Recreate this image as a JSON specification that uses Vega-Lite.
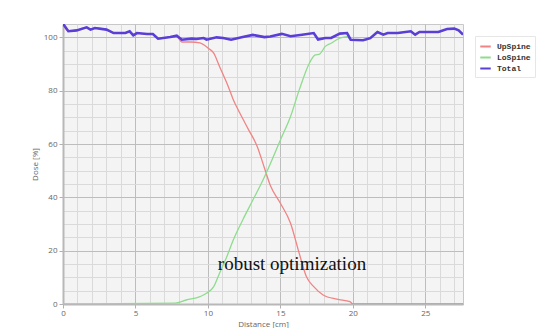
{
  "$schema": "https://vega.github.io/schema/vega-lite/v6.json",
  "width": 400,
  "height": 280,
  "autosize": "none",
  "padding": {"left": 63, "top": 24, "right": 76, "bottom": 24},
  "background": "white",
  "config": {"view": {"fill": "#f4f4f4", "stroke": "#c8c8c8", "strokeWidth": 1}},
  "datasets": {
    "spines": [
      {"d": 0, "v": 105.1, "s": "UpSpine"}, {"d": 0.37, "v": 102.3, "s": "UpSpine"}, {"d": 0.94, "v": 102.6, "s": "UpSpine"}, {"d": 1.63, "v": 103.75, "s": "UpSpine"}, {"d": 1.9, "v": 102.9, "s": "UpSpine"}, {"d": 2.2, "v": 103.5, "s": "UpSpine"}, {"d": 3.0, "v": 102.9, "s": "UpSpine"}, {"d": 3.5, "v": 101.6, "s": "UpSpine"}, {"d": 4.3, "v": 101.6, "s": "UpSpine"}, {"d": 4.6, "v": 102.25, "s": "UpSpine"}, {"d": 4.85, "v": 100.75, "s": "UpSpine"}, {"d": 5.1, "v": 101.6, "s": "UpSpine"}, {"d": 5.8, "v": 101.25, "s": "UpSpine"}, {"d": 6.2, "v": 101.25, "s": "UpSpine"}, {"d": 6.56, "v": 99.5, "s": "UpSpine"}, {"d": 7.4, "v": 100.1, "s": "UpSpine"}, {"d": 7.85, "v": 100.2, "s": "UpSpine"},
      {"d": 8.2, "v": 98.25, "s": "UpSpine"}, {"d": 8.8, "v": 98.25, "s": "UpSpine"}, {"d": 9.45, "v": 97.9, "s": "UpSpine"}, {"d": 10.0, "v": 96, "s": "UpSpine"}, {"d": 10.4, "v": 94.1, "s": "UpSpine"}, {"d": 10.8, "v": 89.1, "s": "UpSpine"}, {"d": 11.4, "v": 81.6, "s": "UpSpine"}, {"d": 11.75, "v": 76.6, "s": "UpSpine"}, {"d": 12.2, "v": 71.6, "s": "UpSpine"}, {"d": 12.8, "v": 65.4, "s": "UpSpine"}, {"d": 13.4, "v": 59.1, "s": "UpSpine"}, {"d": 13.9, "v": 51, "s": "UpSpine"}, {"d": 14.3, "v": 44.5, "s": "UpSpine"}, {"d": 15.0, "v": 37.8, "s": "UpSpine"}, {"d": 15.7, "v": 30.3, "s": "UpSpine"}, {"d": 16.3, "v": 19, "s": "UpSpine"}, {"d": 16.8, "v": 10.2, "s": "UpSpine"}, {"d": 17.3, "v": 6.5, "s": "UpSpine"}, {"d": 17.95, "v": 3.4, "s": "UpSpine"}, {"d": 18.9, "v": 1.8, "s": "UpSpine"}, {"d": 19.8, "v": 0.9, "s": "UpSpine"}, {"d": 20.0, "v": 0, "s": "UpSpine"}, {"d": 27.6, "v": 0, "s": "UpSpine"},
      {"d": 0, "v": 0, "s": "LoSpine"}, {"d": 7.72, "v": 0.3, "s": "LoSpine"}, {"d": 8.5, "v": 1.5, "s": "LoSpine"}, {"d": 9.45, "v": 2.75, "s": "LoSpine"}, {"d": 9.9, "v": 4, "s": "LoSpine"}, {"d": 10.4, "v": 6.5, "s": "LoSpine"}, {"d": 10.8, "v": 11.5, "s": "LoSpine"}, {"d": 11.3, "v": 17.7, "s": "LoSpine"}, {"d": 11.75, "v": 24, "s": "LoSpine"}, {"d": 12.4, "v": 31.5, "s": "LoSpine"}, {"d": 13.1, "v": 39, "s": "LoSpine"}, {"d": 13.8, "v": 46.5, "s": "LoSpine"}, {"d": 14.3, "v": 52.5, "s": "LoSpine"}, {"d": 15.0, "v": 61.5, "s": "LoSpine"}, {"d": 15.7, "v": 70.3, "s": "LoSpine"}, {"d": 16.3, "v": 80.3, "s": "LoSpine"}, {"d": 17.0, "v": 90.3, "s": "LoSpine"}, {"d": 17.4, "v": 93.4, "s": "LoSpine"}, {"d": 17.7, "v": 93.7, "s": "LoSpine"}, {"d": 18.1, "v": 96.6, "s": "LoSpine"}, {"d": 18.5, "v": 97.8, "s": "LoSpine"}, {"d": 19.1, "v": 99.7, "s": "LoSpine"}, {"d": 19.6, "v": 100.3, "s": "LoSpine"}, {"d": 19.85, "v": 99.1, "s": "LoSpine"}, {"d": 20.7, "v": 98.9, "s": "LoSpine"}, {"d": 21.2, "v": 99.7, "s": "LoSpine"}, {"d": 21.7, "v": 102, "s": "LoSpine"}, {"d": 22.1, "v": 101, "s": "LoSpine"}, {"d": 22.4, "v": 101.6, "s": "LoSpine"}, {"d": 23.1, "v": 101.6, "s": "LoSpine"}, {"d": 24.0, "v": 102.25, "s": "LoSpine"}, {"d": 24.3, "v": 101, "s": "LoSpine"}, {"d": 24.6, "v": 102, "s": "LoSpine"}, {"d": 25.9, "v": 102, "s": "LoSpine"}, {"d": 26.5, "v": 103.1, "s": "LoSpine"}, {"d": 27.0, "v": 103.25, "s": "LoSpine"}, {"d": 27.3, "v": 102.6, "s": "LoSpine"}, {"d": 27.6, "v": 101, "s": "LoSpine"}
    ],
    "total": [
      {"d": 0, "v": 105.1, "s": "Total"}, {"d": 0.37, "v": 102.3, "s": "Total"}, {"d": 0.94, "v": 102.6, "s": "Total"}, {"d": 1.63, "v": 103.75, "s": "Total"}, {"d": 1.9, "v": 102.9, "s": "Total"}, {"d": 2.2, "v": 103.5, "s": "Total"}, {"d": 3.0, "v": 102.9, "s": "Total"}, {"d": 3.5, "v": 101.6, "s": "Total"}, {"d": 4.3, "v": 101.6, "s": "Total"}, {"d": 4.6, "v": 102.25, "s": "Total"}, {"d": 4.85, "v": 100.75, "s": "Total"}, {"d": 5.1, "v": 101.6, "s": "Total"}, {"d": 5.8, "v": 101.25, "s": "Total"}, {"d": 6.2, "v": 101.25, "s": "Total"}, {"d": 6.56, "v": 99.5, "s": "Total"}, {"d": 7.4, "v": 100.1, "s": "Total"}, {"d": 7.85, "v": 100.6, "s": "Total"}, {"d": 8.2, "v": 99.1, "s": "Total"}, {"d": 8.9, "v": 99.5, "s": "Total"}, {"d": 9.2, "v": 99.4, "s": "Total"}, {"d": 9.7, "v": 99.75, "s": "Total"}, {"d": 9.9, "v": 99.1, "s": "Total"}, {"d": 10.6, "v": 100, "s": "Total"}, {"d": 11.05, "v": 99.75, "s": "Total"}, {"d": 11.6, "v": 99.1, "s": "Total"}, {"d": 12.4, "v": 100.1, "s": "Total"}, {"d": 13.1, "v": 100.9, "s": "Total"}, {"d": 13.9, "v": 100.1, "s": "Total"}, {"d": 14.3, "v": 100.3, "s": "Total"}, {"d": 15.1, "v": 101.3, "s": "Total"}, {"d": 15.7, "v": 100.4, "s": "Total"}, {"d": 16.5, "v": 101, "s": "Total"}, {"d": 17.3, "v": 101.6, "s": "Total"}, {"d": 17.6, "v": 99.2, "s": "Total"}, {"d": 18.1, "v": 99.75, "s": "Total"}, {"d": 18.5, "v": 99.75, "s": "Total"}, {"d": 19.1, "v": 101.4, "s": "Total"}, {"d": 19.6, "v": 101.6, "s": "Total"}, {"d": 19.85, "v": 99.1, "s": "Total"}, {"d": 20.7, "v": 98.9, "s": "Total"}, {"d": 21.2, "v": 99.7, "s": "Total"}, {"d": 21.7, "v": 102, "s": "Total"}, {"d": 22.1, "v": 101, "s": "Total"}, {"d": 22.4, "v": 101.6, "s": "Total"}, {"d": 23.1, "v": 101.6, "s": "Total"}, {"d": 24.0, "v": 102.25, "s": "Total"}, {"d": 24.3, "v": 101, "s": "Total"}, {"d": 24.6, "v": 102, "s": "Total"}, {"d": 25.9, "v": 102, "s": "Total"}, {"d": 26.5, "v": 103.1, "s": "Total"}, {"d": 27.0, "v": 103.25, "s": "Total"}, {"d": 27.3, "v": 102.6, "s": "Total"}, {"d": 27.6, "v": 101, "s": "Total"}
    ],
    "note": [{"d": 15.8, "v": 12.6, "label": "robust optimization"}]
  },
  "encoding": {
    "x": {
      "field": "d", "type": "quantitative",
      "scale": {"domain": [0, 27.6], "nice": false, "zero": false},
      "axis": {
        "values": [0,1,2,3,4,5,6,7,8,9,10,11,12,13,14,15,16,17,18,19,20,21,22,23,24,25,26,27],
        "labelExpr": "datum.value % 5 === 0 ? datum.label : ''",
        "labelOverlap": false, "labelFlush": false, "labelBound": false,
        "grid": true,
        "gridColor": {"condition": {"test": "datum.value % 5 === 0", "value": "#bdbdbd"}, "value": "#dadada"},
        "gridWidth": 1,
        "tickColor": {"condition": {"test": "datum.value % 5 === 0", "value": "#b0b0b0"}, "value": "transparent"},
        "tickSize": 4,
        "domainColor": "#b8b8b8", "domainWidth": 2,
        "labelFont": "Open Sans", "labelFontSize": 8, "labelColor": "#666", "labelPadding": 1,
        "title": "Distance [cm]", "titleFont": "Open Sans", "titleFontSize": 8, "titleFontWeight": "normal", "titleColor": "#666",
        "titleX": 200, "titleY": 20, "titleBaseline": "middle", "titleAlign": "center"
      }
    },
    "y": {
      "field": "v", "type": "quantitative",
      "scale": {"domain": [0, 105], "nice": false},
      "axis": {
        "values": [0,5,10,15,20,25,30,35,40,45,50,55,60,65,70,75,80,85,90,95,100],
        "labelExpr": "datum.value % 20 === 0 ? datum.label : ''",
        "labelOverlap": false, "labelFlush": false, "labelBound": false,
        "grid": true,
        "gridColor": {"condition": {"test": "datum.value % 20 === 0", "value": "#bdbdbd"}, "value": "#dadada"},
        "gridWidth": 1,
        "tickColor": {"condition": {"test": "datum.value % 20 === 0", "value": "#b0b0b0"}, "value": "transparent"},
        "tickSize": 4,
        "domainColor": "#b8b8b8", "domainWidth": 2,
        "labelFont": "Open Sans", "labelFontSize": 8, "labelColor": "#666", "labelPadding": 2,
        "title": "Dose [%]", "titleFont": "Open Sans", "titleFontSize": 8, "titleFontWeight": "normal", "titleColor": "#666",
        "titleX": -28, "titleY": 140, "titleAngle": 270, "titleBaseline": "middle", "titleAlign": "center"
      }
    }
  },
  "layer": [
    {
      "data": {"name": "spines"},
      "mark": {"type": "line", "interpolate": "monotone", "strokeWidth": 1.3, "clip": true},
      "encoding": {
        "color": {
          "field": "s", "type": "nominal",
          "scale": {"domain": ["UpSpine", "LoSpine", "Total"], "range": ["#f08484", "#8edc8e", "#5a3ed6"]},
          "legend": {
            "title": null, "orient": "none", "legendX": 412, "legendY": 12,
            "symbolType": "stroke", "symbolStrokeWidth": 2, "symbolSize": 110,
            "labelFont": "Liberation Mono", "labelFontSize": 8, "labelFontWeight": "bold", "labelColor": "#333",
            "labelOffset": 5, "rowPadding": 0,
            "strokeColor": "#e6e6e6", "fillColor": "white", "padding": 4
          }
        }
      }
    },
    {
      "data": {"name": "total"},
      "mark": {"type": "line", "interpolate": "linear", "strokeWidth": 2.6, "clip": true},
      "encoding": {
        "color": {"field": "s", "type": "nominal"}
      }
    },
    {
      "data": {"name": "note"},
      "mark": {"type": "text", "font": "Liberation Serif", "fontSize": 19, "color": "#111", "align": "center", "baseline": "alphabetic"},
      "encoding": {
        "text": {"field": "label"}
      }
    }
  ]
}
